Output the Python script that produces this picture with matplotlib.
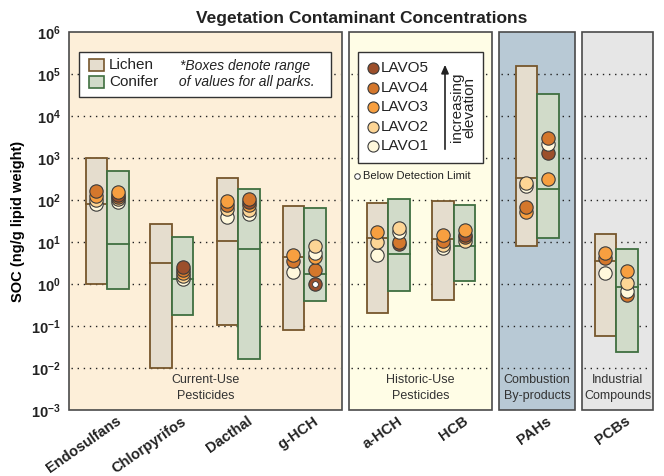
"""
Vegetation contaminant concentrations: lichen and conifer ranges per compound,
with per-site (LAVO1-LAVO5) values overlaid as dots.
"""

import numpy as np
import matplotlib.pyplot as plt
from matplotlib.patches import Rectangle, FancyArrowPatch
from matplotlib.lines import Line2D
import matplotlib.transforms as mtransforms

plt.rcParams['font.family'] = ['Liberation Sans', 'DejaVu Sans']
plt.rcParams['mathtext.fontset'] = 'custom'
plt.rcParams['mathtext.rm'] = 'Liberation Sans'
plt.rcParams['mathtext.bf'] = 'Liberation Sans:bold'

nan = np.nan

# ========================
# Data
# ========================
compounds = ['Endosulfans', 'Chlorpyrifos', 'Dacthal', 'g-HCH',
             'a-HCH', 'HCB', 'PAHs', 'PCBs']

# range boxes (ng/g lipid weight)
lichen_max = [1000, 27, 330, 72, 85, 95, 155000, 15.5]
lichen_med = [80, 3.2, 10.7, 4.3, 12.4, 11.8, 330, 3.5]
lichen_min = [1.0, 0.01, 0.106, 0.08, 0.2, 0.42, 8.1, 0.058]
conifer_max = [490, 13, 183, 65, 105, 76, 33000, 6.8]
conifer_med = [9, 1.3, 6.8, 1.7, 5.2, 8.1, 183, 0.85]
conifer_min = [0.75, 0.18, 0.016, 0.4, 0.68, 1.17, 12.4, 0.024]

sites = ['LAVO1', 'LAVO2', 'LAVO3', 'LAVO4', 'LAVO5']
site_colors = ['#fff8dc', '#fdd595', '#f79f40', '#d4772c', '#9c4f2b']

# per-site values, columns LAVO1..LAVO5
lichen_sites = [
    [80, 100, 125, 165, nan],
    [nan, nan, nan, nan, nan],
    [40, 62, 95, 78, nan],
    [1.9, nan, 4.8, 3.5, nan],
    [4.8, 10, 17, nan, nan],
    [7.3, 8.5, 15, 10.5, nan],
    [210, 260, 52, 68, nan],
    [1.87, nan, 5.6, 4.1, nan],
]
conifer_sites = [
    [92, 105, 155, 120, 130],
    [1.3, 1.55, 1.8, 2.1, 2.6],
    [47, 57, 75, 105, 90],
    [5.6, 8.1, 4.3, 2.1, 1.0],
    [17, 22, nan, 10, 9],
    [nan, 10.5, 19, 13, 15],
    [2150, nan, 320, 3000, 1280],
    [0.69, 1.04, 2.05, 0.55, nan],
]
# (compound index, 'conifer'/'lichen', site index) below detection limit
below_dl = [(3, 'conifer', 4)]

groups = ['Current-Use\nPesticides', 'Historic-Use\nPesticides',
          'Combustion\nBy-products', 'Industrial\nCompounds']

# ========================
# Layout
# ========================
W, H = 664, 476
x_centers = [1.77, 4.79, 7.86, 10.93, 14.84, 17.9, 21.77, 25.44]
panels = [(0.0, 12.70), (13.02, 19.67), (20.0, 23.53), (23.86, 27.16)]
panel_colors = ['#fdefd9', '#fffde6', '#b8c9d5', '#e6e6e6']
box_w = 1.0

lichen_face, lichen_edge = '#e5ddce', '#76562c'
conifer_face, conifer_edge = '#d1dbc9', '#3f6f40'

fig = plt.figure(figsize=(W / 100, H / 100), dpi=100)
ax = fig.add_axes([69 / W, 66 / H, 584 / W, 378 / H])
ax.set_yscale('log')
ax.set_ylim(1e-3, 1e6)
ax.set_xlim(0, 27.16)
for s in ax.spines.values():
    s.set_visible(False)


def fig_xy(px, py):
    """pixel position (top-left origin) to figure fraction"""
    return px / W, 1 - py / H


# panels and dotted decade lines
decades = 10.0 ** np.arange(-2, 6)
for (x0, x1), pc in zip(panels, panel_colors):
    ax.add_patch(Rectangle((x0, 1e-3), x1 - x0, 1e6 - 1e-3, facecolor=pc,
                           edgecolor='#4a4a4a', linewidth=1.2, zorder=0,
                           clip_on=False))
    ax.hlines(decades, x0 + 0.1, x1 - 0.1, colors='#222222',
              linestyles=(0, (1, 3.4)), linewidth=1.0, zorder=1)


def draw_box(xc, lo, med, hi, face, edge):
    ax.add_patch(Rectangle((xc - box_w / 2, lo), box_w, hi - lo,
                           facecolor=face, edgecolor=edge, linewidth=1.3,
                           zorder=2))
    ax.plot([xc - box_w / 2, xc + box_w / 2], [med, med], color=edge,
            linewidth=1.3, zorder=2)


def draw_sites(xc, values):
    vals = np.array(values, dtype=float)
    order = [i for i in np.argsort(vals) if not np.isnan(vals[i])]
    for i in order:
        ax.plot(xc, vals[i], 'o', markersize=9.6, markerfacecolor=site_colors[i],
                markeredgecolor='#3a3a3a', markeredgewidth=0.8, zorder=4)


for k, xc in enumerate(x_centers):
    xl, xr = xc - box_w / 2, xc + box_w / 2
    draw_box(xl, lichen_min[k], lichen_med[k], lichen_max[k],
             lichen_face, lichen_edge)
    draw_box(xr, conifer_min[k], conifer_med[k], conifer_max[k],
             conifer_face, conifer_edge)
    draw_sites(xl, lichen_sites[k])
    draw_sites(xr, conifer_sites[k])

for k, plant, i in below_dl:
    if plant == 'lichen':
        xc, v = x_centers[k] - box_w / 2, lichen_sites[k][i]
    else:
        xc, v = x_centers[k] + box_w / 2, conifer_sites[k][i]
    ax.plot(xc, v, 'o', markersize=4.2, markerfacecolor='white',
            markeredgecolor='#3a3a3a', markeredgewidth=0.6, zorder=5)

# group captions inside panels
for (x0, x1), g in zip(panels, groups):
    ax.text((x0 + x1) / 2, 3.3e-3, g, ha='center', va='center', fontsize=9,
            color='#333333', linespacing=1.4, zorder=3)

# y axis
ticks = 10.0 ** np.arange(-3, 7)
ax.set_yticks(ticks)
ax.set_yticklabels([r'$\mathbf{10^{%d}}$' % e for e in range(-3, 7)])
ax.yaxis.set_minor_locator(plt.NullLocator())
ax.tick_params(axis='y', length=0, pad=6, labelsize=10.5, colors='#222222')
ax.set_xticks([])
ax.set_ylabel('SOC (ng/g lipid weight)', fontsize=10.5, fontweight='bold',
              labelpad=4)

# rotated compound labels
trans = mtransforms.offset_copy(ax.get_xaxis_transform(), fig=fig,
                                x=9, y=-4, units='dots')
for xc, name in zip(x_centers, compounds):
    ax.text(xc, 0, name, transform=trans, rotation=35, ha='right', va='top',
            rotation_mode='anchor', fontsize=10.5, fontweight='bold',
            color='#222222')

fig.text(*fig_xy(362, 18), 'Vegetation Contaminant Concentrations',
         ha='center', va='center', fontsize=12.5, fontweight='bold',
         color='#222222')

# ========================
# Plant-type key
# ========================
fig.patches.append(Rectangle(fig_xy(79, 97), 252 / W, 45 / H,
                             transform=fig.transFigure, facecolor='white',
                             edgecolor='#333333', linewidth=1.0, zorder=10))
for py, lab, fc, ec in [(65, 'Lichen', lichen_face, lichen_edge),
                        (82, 'Conifer', conifer_face, conifer_edge)]:
    fig.patches.append(Rectangle(fig_xy(89, py + 6), 15 / W, 12 / H,
                                 transform=fig.transFigure, facecolor=fc,
                                 edgecolor=ec, linewidth=1.2, zorder=11))
    fig.text(*fig_xy(109, py), lab, ha='left', va='center', fontsize=11,
             color='#222222', zorder=12)
fig.text(*fig_xy(245, 74), '*Boxes denote range\n of values for all parks.',
         ha='center', va='center', fontsize=10, style='italic',
         color='#222222', linespacing=1.2, zorder=12)

# ========================
# Site key
# ========================
fig.patches.append(Rectangle(fig_xy(358, 163), 125 / W, 111 / H,
                             transform=fig.transFigure, facecolor='white',
                             edgecolor='#333333', linewidth=1.0, zorder=10))
for j, py in enumerate([146, 127, 107, 88, 68]):
    fx, fy = fig_xy(373, py)
    fig.lines.append(Line2D([fx], [fy], transform=fig.transFigure, marker='o',
                            markersize=8, markerfacecolor=site_colors[j],
                            markeredgecolor='#3a3a3a', markeredgewidth=0.8,
                            zorder=11))
    fig.text(*fig_xy(381, py), sites[j], ha='left', va='center', fontsize=11,
             color='#222222', zorder=12)
fig.patches.append(FancyArrowPatch(
    fig_xy(445, 152), fig_xy(445, 62), transform=fig.transFigure,
    arrowstyle='-|>,head_length=5,head_width=2.2', color='#222222',
    linewidth=1.2, zorder=12))
fig.text(*fig_xy(463, 107), 'increasing\nelevation', ha='center', va='center',
         rotation=90, fontsize=11, color='#222222', linespacing=0.9,
         zorder=12)

fx, fy = fig_xy(357, 176)
fig.lines.append(Line2D([fx], [fy], transform=fig.transFigure, marker='o',
                        markersize=4, markerfacecolor='white',
                        markeredgecolor='#333333', markeredgewidth=0.7,
                        zorder=11))
fig.text(*fig_xy(363, 176), 'Below Detection Limit', ha='left', va='center',
         fontsize=8, color='#222222', zorder=12)

fig.savefig('out.png', dpi=100)
